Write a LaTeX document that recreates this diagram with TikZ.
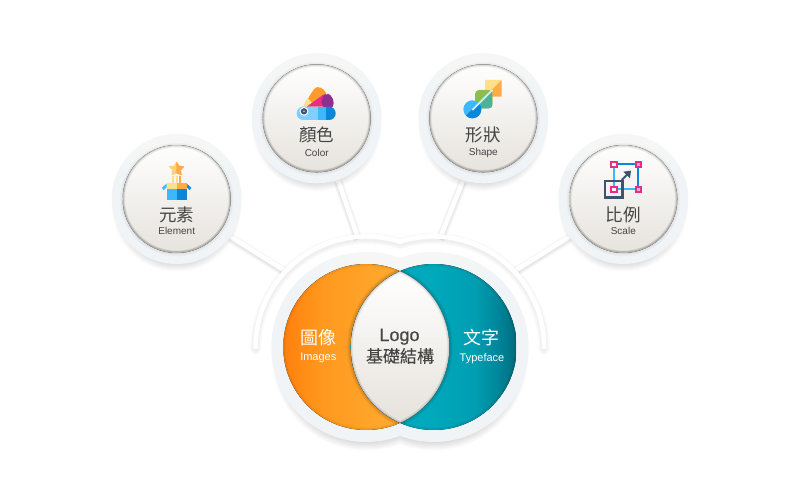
\documentclass[tikz,border=0pt]{standalone}
\usepackage{fontspec}
\setmainfont{Liberation Sans}
\newfontfamily\cjk{Noto Sans CJK TC}
\newfontfamily\cjkm[FakeBold=0.25]{Noto Sans CJK TC}
\newfontfamily\latm[FakeBold=0.25]{Liberation Sans}
\definecolor{txt}{HTML}{454545}
\definecolor{ringS}{HTML}{F1F4F6}
\definecolor{blueL}{HTML}{3DB8FF}
\definecolor{blueD}{HTML}{0B87D9}
\definecolor{blueP}{HTML}{7FD0FF}
\definecolor{yel}{HTML}{FFE08A}
\definecolor{org}{HTML}{FFAB4A}
\definecolor{pinkc}{HTML}{EC2C84}
\definecolor{navy}{HTML}{3F5270}
\definecolor{faceM}{HTML}{FBFAF9}
\definecolor{faceB}{HTML}{E6E2DC}
\definecolor{grnA}{HTML}{8ABF4A}
\definecolor{grnB}{HTML}{4CB39A}
\definecolor{purp}{HTML}{8E2E92}
\pgfdeclarehorizontalshading{orangeband}{100bp}{
  rgb(0bp)=(1,0.50,0.05); rgb(25bp)=(1,0.50,0.05); rgb(37bp)=(1,0.60,0.12);
  rgb(50bp)=(1,0.64,0.16); rgb(75bp)=(1,0.71,0.21); rgb(100bp)=(1,0.71,0.21)}
\pgfdeclarehorizontalshading{tealband}{100bp}{
  rgb(0bp)=(0,0.69,0.77); rgb(25bp)=(0,0.69,0.77); rgb(50bp)=(0,0.66,0.73);
  rgb(62bp)=(0,0.62,0.70); rgb(69bp)=(0,0.53,0.61); rgb(75bp)=(0,0.42,0.49); rgb(100bp)=(0,0.42,0.49)}
\tikzset{
  ballnode/.style={circle,minimum size=130pt,inner sep=0pt,outer sep=0pt},
  ringfill/.style={fill=ringS},
  facefill/.style={top color=white,middle color=faceM,bottom color=faceB},
  linkwhite/.style={draw=white,line width=4.6pt},
  linksoft/.style={draw=black,opacity=0.014},
  arcsoft/.style={draw=black,opacity=0.009},
  cjkbig/.style={font=\cjk\fontsize{17.5}{20}\selectfont,text=txt,inner sep=0pt},
  latsmall/.style={font=\fontsize{10}{12}\selectfont,text=txt,inner sep=0pt},
  hubcjk/.style={font=\cjk\fontsize{18}{20}\selectfont,text=white,inner sep=0pt},
  hublat/.style={font=\fontsize{11}{12}\selectfont,text=white,inner sep=0pt},
  icon/.style={x=0.3333pt,y=-0.3333pt}
}
% soft drop shadow + ring + face of one satellite disc
\newcommand{\discbody}[2]{%
  \foreach \k in {0,...,9}{\fill[black,opacity=0.016] (#1,#2-8) circle ({64.5-\k});}
  \fill[ringfill] (#1,#2) circle (65pt);
  \begin{scope}
    \clip (#1,#2) circle (65pt);
    \foreach \k in {1,...,8}{\fill[white,opacity=0.11] (#1,#2+66) circle ({\k*8});}
  \end{scope}
  \foreach \k in {0,...,5}{\fill[black,opacity=0.01] (#1,#2-0.5) circle ({57-0.5*\k});}
  \begin{scope}
    \clip (#1,#2) circle (54pt);
    \fill[facefill] (#1-56,#2-56) rectangle (#1+56,#2+56);
    \foreach \k in {1,...,5}{\draw[black,opacity=0.034,line width={\k*1pt}] (#1,#2) circle (54pt);}
    \foreach \k in {1,...,3}{\draw[black,opacity=0.03,line width={\k*1pt}] (#1,#2+0.8) circle (54pt);}
  \end{scope}}
\begin{document}
\begin{tikzpicture}[x=1pt,y=1pt]
\useasboundingbox (0,0) rectangle (800,496);
\fill[white] (0,0) rectangle (800,496);
% named discs
\node[ballnode] (el) at (176.7,297) {};
\node[ballnode] (co) at (316.7,377.7) {};
\node[ballnode] (sh) at (483.3,377.7) {};
\node[ballnode] (sc) at (623.3,297) {};
% free ends of the connectors, on the hub arc
\coordinate (hubEl) at (284,226);
\coordinate (hubCo) at (358,258);
\coordinate (hubSh) at (440,258);
\coordinate (hubSc) at (516,226);
\foreach \a/\b in {el.-35/hubEl,co.-71.4/hubCo,sh.-108.6/hubSh,sc.-145/hubSc}{
  \foreach \w in {5,6,7,8,9,10}{\draw[linksoft,line width=\w pt,transform canvas={yshift=-1.5pt}] (\a) -- (\b);}
  \draw[linkwhite] (\a) -- (\b);
}
% hub arc
\coordinate (arcL) at (255.7,149);
\coordinate (arcR) at (544.3,149);
\foreach \w in {5,6,7,8,9,10,11,12}{
  \draw[arcsoft,line width=\w pt,transform canvas={yshift=-2pt},line cap=round] (arcL) arc[start angle=180,end angle=72.3,radius=110.6pt]
     arc[start angle=107.7,end angle=0,radius=110.6pt];
}
\draw[linkwhite,line cap=round] (arcL) arc[start angle=180,end angle=72.3,radius=110.6pt]
     arc[start angle=107.7,end angle=0,radius=110.6pt];
% hub shadow and ring
\foreach \k in {0,...,10}{\fill[black,opacity=0.016] (366.3,140) circle ({94.5-\k}) (433.7,140) circle ({94.5-\k});}
\fill[ringfill] (366.3,149) circle (95pt) (433.7,149) circle (95pt);
\begin{scope}
  \clip (366.3,149) circle (95pt) (433.7,149) circle (95pt);
  \foreach \k in {1,...,8}{\fill[white,opacity=0.11] (400,250) circle ({\k*11});}
\end{scope}
% orange
\begin{scope}
  \clip (366.3,149) circle (83pt);
  \fill[shading=orangeband] (283.3,66) rectangle (449.3,232);
  \foreach \k in {1,...,4}{\draw[black,opacity=0.02,line width={\k*1.3pt}] (366.3,149) circle (83pt);}
  \foreach \k in {1,...,5}{\draw[black,opacity=0.035,line width={\k*1.5pt}] (400,224.8) arc[start angle=114,end angle=246,radius=83pt];}
\end{scope}
% teal
\begin{scope}
  \clip (433.7,149) circle (83pt);
  \fill[shading=tealband] (350.7,66) rectangle (516.7,232);
  \foreach \k in {1,...,4}{\draw[black,opacity=0.02,line width={\k*1.3pt}] (433.7,149) circle (83pt);}
  \foreach \k in {1,...,5}{\draw[black,opacity=0.035,line width={\k*1.5pt}] (400,224.8) arc[start angle=66,end angle=-66,radius=83pt];}
\end{scope}
% lens
\begin{scope}
  \clip (400,224.8) arc[start angle=66,end angle=-66,radius=83pt] arc[start angle=246,end angle=114,radius=83pt] -- cycle;
  \fill[facefill] (350,73) rectangle (450,225);
  \foreach \k in {1,...,4}{\draw[black,opacity=0.04,line width={\k*1.1pt}] (400,224.8) arc[start angle=66,end angle=-66,radius=83pt] arc[start angle=246,end angle=114,radius=83pt] -- cycle;}
\end{scope}
% discs bodies
\discbody{176.7}{297}
\discbody{316.7}{377.7}
\discbody{483.3}{377.7}
\discbody{623.3}{297}
% Element icon
\begin{scope}[icon,shift={(150pt,341pt)}]
  \fill[yel!70!org,draw=yel!70!org,line width=1pt,line join=round] (80,22)--(87,33)--(101,35)--(91,46)--(94,59)--(80,54)--(66,59)--(69,46)--(59,35)--(73,33)--cycle;
  \fill[org,draw=org,line width=0.6pt,line join=round] (80,22)--(87,33)--(101,35)--(91,46)--(94,59)--(80,54)--cycle;
  \foreach \xx/\cc in {70/yel,80/yel,90/org}{\fill[\cc] (\xx-3,63) rectangle (\xx+3,84);}
  \fill[blueL] (36,98)--(50,86)--(50,97)--(41,106)--cycle;
  \fill[blueD!80!blueL] (124,98)--(110,86)--(110,97)--(119,106)--cycle;
  \fill[yel] (50,85) rectangle (80,103);
  \fill[org] (80,85) rectangle (110,103);
  \fill[blueL] (50,103) rectangle (80,135);
  \fill[blueD] (80,103) rectangle (110,135);
\end{scope}
% Color icon
\begin{scope}[icon,shift={(290pt,416pt)}]
  \fill[org!60!orange,rounded corners=5pt] (38,80)--(80,15)--(114,38)--(90,80)--cycle;
  \fill[yel] (38,80)--(54,54)--(74,80)--cycle;
  \fill[pinkc] (50,80)--(100,44)--(105,80)--cycle;
  \fill[purp,rounded corners=5pt] (95,48)--(108,41)--(126,43)--(134,84)--(95,84)--cycle;
  \fill[blueP,rounded corners=6.5pt] (20,80) rectangle (100,120);
  \fill[blueD,rounded corners=6.5pt] (90,80) rectangle (137,120);
  \fill[blueL] (85,80) rectangle (108,120);
  \fill[white] (42,94) circle (4.4pt);
  \fill[navy] (42,94) circle (3.2pt);
  \fill[blueP] (42,94) circle (1pt);
\end{scope}
% Shape icon
\begin{scope}[icon,shift={(455pt,421pt)}]
  \fill[yel] (90,15)--(140,15)--(90,65)--cycle;
  \fill[org] (140,15)--(140,65)--(90,65)--cycle;
  \fill[grnA,rounded corners=4pt] (60,45) rectangle (113,100);
  \begin{scope}
    \clip (113,45)--(113,100)--(60,100)--cycle;
    \fill[grnB,rounded corners=4pt] (60,45) rectangle (113,100);
  \end{scope}
  \fill[blueL] (52,103) circle (9pt);
  \begin{scope}
    \clip (25,130)--(79,76)--(90,140)--cycle;
    \fill[blueD] (52,103) circle (9pt);
  \end{scope}
  \draw[blueP!40!white,line width=1.7pt] (52,105) -- (112,45);
\end{scope}
% Scale icon
\begin{scope}[icon,shift={(595pt,341pt)}]
  \draw[blueD,line width=2pt] (57,28) -- (130,28);
  \draw[blueL,line width=2pt] (57,28) -- (57,103) -- (130,103);
  \draw[blueD,line width=2pt] (130,28) -- (130,103);
  \draw[navy,line width=2.4pt] (30,78) rectangle (82,128);
  \draw[navy,line width=2pt] (80,75) -- (100,55);
  \fill[navy] (108,47) -- (85,50) -- (105,70) -- cycle;
  \foreach \px/\py/\col in {57/28/white,130/28/violet!30!white,130/103/violet!30!white,57/103/white}{
    \fill[pinkc] (\px-11,\py-11) rectangle (\px+11,\py+11);
    \fill[\col] (\px-5,\py-5) rectangle (\px+5,\py+5);
  }
\end{scope}
% disc labels
\node[cjkbig] (t1) at (176.7,281) {元素};
\node[latsmall] (l1) at (176.7,265.3) {Element};
\node[cjkbig] (t2) at (316.7,361.5) {顏色};
\node[latsmall] (l2) at (316.7,343) {Color};
\node[cjkbig] (t3) at (483.3,361.5) {形狀};
\node[latsmall] (l3) at (483.3,343) {Shape};
\node[cjkbig] (t4) at (623.3,281) {比例};
\node[latsmall] (l4) at (623.3,265.3) {Scale};
% hub labels
\node[hubcjk] (t5) at (318.3,158) {圖像};
\node[hublat] (l5) at (318.3,137.7) {Images};
\node[hubcjk] (t6) at (481.7,158) {文字};
\node[hublat] (l6) at (482,137.7) {Typeface};
\node[font=\latm\fontsize{18}{20}\selectfont,text=txt,inner sep=0pt] (t7) at (399.5,159.3) {Logo};
\node[font=\cjkm\fontsize{17}{20}\selectfont,text=txt,inner sep=0pt] (l7) at (400,140) {基礎結構};
\end{tikzpicture}
\end{document}
